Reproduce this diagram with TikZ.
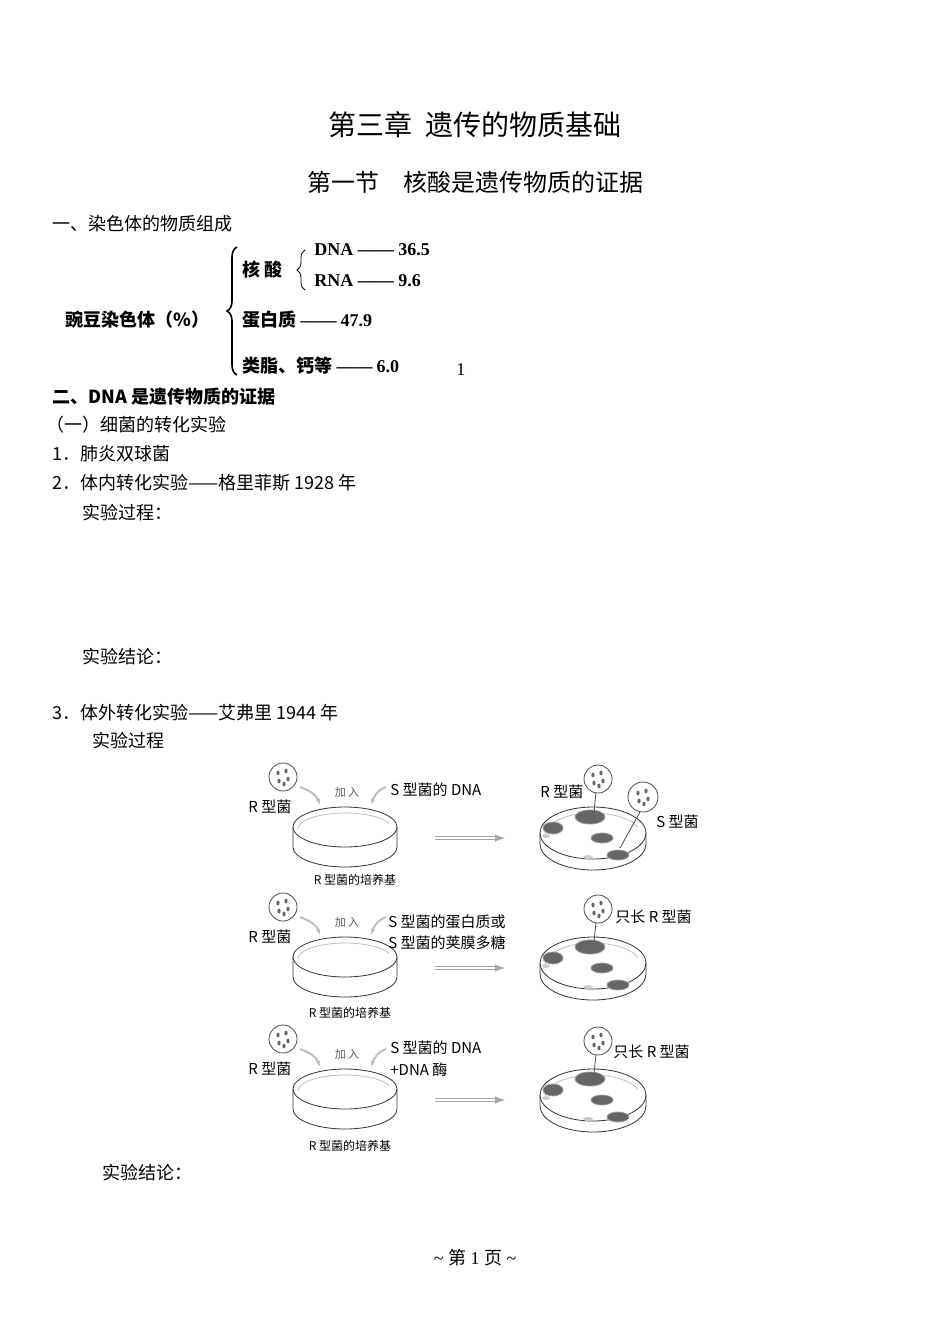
\documentclass[tikz,border=0pt]{standalone}
\usepackage{fontspec}
\setmainfont{Liberation Serif}
\newfontfamily\cjk{Noto Sans CJK SC}
\usetikzlibrary{arrows.meta,decorations.pathreplacing}
\tikzset{
	txt/.style={anchor=west, inner sep=0pt, font=\cjk\fontsize{9}{11}\selectfont},
	lbl/.style={anchor=west, inner sep=0pt, font=\cjk\fontsize{7.5}{9}\selectfont},
	tiny/.style={inner sep=0pt, font=\cjk\fontsize{5.5}{7}\selectfont, gray!70!black},
	colony/.style={fill=black!60, draw=black!40},
	bubble/.style={draw=black!70, fill=white},
	feed/.style={gray!50, line width=1pt, -{Latex[length=3pt]}},
	thru/.style={double=white, double distance=1.2pt, draw=gray!70, -{Latex[length=5pt]}},
}
\newcommand{\dish}[5]{% x, y, rx, ry, rim
	\draw[black!80] (#1-#3,#2) -- (#1-#3,#2+#5) arc[start angle=180, end angle=0, x radius=#3, y radius=#4] -- (#1+#3,#2);
	\draw[black!80, fill=white] (#1,#2) ellipse [x radius=#3, y radius=#4];
	\draw[gray!50] (#1-#3+5,#2+2) arc[start angle=180, end angle=340, x radius=#3-5, y radius=#4-4];
}
\newcommand{\cells}[2]{% bubble centre
	\foreach \dx/\dy in {-5/-4,-4/4,3/-6,5/2,1/7}
		\fill[black!60] (#1+\dx,#2+\dy) ellipse [x radius=1.6, y radius=2.4];
}
\newcommand{\spots}[2]{% dish centre
	\fill[colony] (#1-40,#2-5) ellipse [x radius=10, y radius=6];
	\fill[colony] (#1+9,#2+5) ellipse [x radius=11, y radius=5];
	\fill[colony] (#1+25,#2+22) ellipse [x radius=11, y radius=5];
	\fill[gray!40] (#1-47,#2+3) ellipse [x radius=4, y radius=2];
	\fill[gray!40] (#1-5,#2+24) ellipse [x radius=5, y radius=2];
}
\begin{document}
\begin{tikzpicture}[x=0.5pt, y=-0.5pt]
	\useasboundingbox[fill=white] (0,0) rectangle (950,1343);
	
	% headings
	\node[inner sep=0pt, font=\cjk\fontsize{14}{16}\selectfont] (title) at (475,125) {第三章\ \ 遗传的物质基础};
	\node[inner sep=0pt, font=\cjk\fontsize{12}{14}\selectfont] (sect) at (475,182) {第一节\quad 核酸是遗传物质的证据};
	\node[txt] (h1) at (52,224) {一、染色体的物质组成};
	
	% chromosome composition
	\node[txt, font=\cjk\bfseries\fontsize{9}{11}\selectfont] (pea) at (65,320) {豌豆染色体（\%）};
	\draw[decorate, decoration={brace, amplitude=5pt}, thick] (237,375) -- (237,247);
	\node[txt, font=\cjk\bfseries\fontsize{9}{11}\selectfont] (nuc) at (242,270) {核\ 酸};
	\draw[decorate, decoration={brace, amplitude=4pt}] (305,290) -- (305,250);
	\node[txt, font=\bfseries\fontsize{9}{11}\selectfont] (dna) at (314,250) {DNA —— 36.5};
	\node[txt, font=\bfseries\fontsize{9}{11}\selectfont] (rna) at (314,281) {RNA —— 9.6};
	\node[txt, font=\cjk\bfseries\fontsize{9}{11}\selectfont] (prot) at (242,320) {蛋白质 {\rmfamily——} {\rmfamily 47.9}};
	\node[txt, font=\cjk\bfseries\fontsize{9}{11}\selectfont] (lip) at (242,366) {类脂、钙等 {\rmfamily ——} {\rmfamily 6.0}};
	\node[txt, font=\rmfamily\fontsize{9}{11}\selectfont] (one) at (456,370) {1};
	
	% text lines
	\node[txt, font=\cjk\bfseries\fontsize{9}{11}\selectfont] (h2) at (52,397) {二、DNA 是遗传物质的证据};
	\node[txt] (sub1) at (46,425) {（一）细菌的转化实验};
	\node[txt] (it1) at (52,454) {1．肺炎双球菌};
	\node[txt] (it2) at (52,483) {2．体内转化实验——格里菲斯\ 1928 年};
	\node[txt] (proc1) at (82,513) {实验过程：};
	\node[txt] (conc1) at (82,657) {实验结论：};
	\node[txt] (it3) at (52,713) {3．体外转化实验——艾弗里\ 1944 年};
	\node[txt] (proc2) at (92,741) {实验过程};
	\node[txt] (conc2) at (102,1173) {实验结论：};
	\node[txt, anchor=center] (foot) at (475,1258) {\rmfamily \textasciitilde\ {\cjk 第}\ 1 {\cjk 页}\ \textasciitilde};
	
	% three rows of the experiment
	\foreach \r/\yy in {1/827,2/957,3/1089}{
		\dish{345}{\yy}{52}{20}{20}
		\dish{593}{\yy+6}{53}{26}{11}
		\spots{593}{\yy+6}
		\fill[colony] (590,\yy-10) ellipse [x radius=15, y radius=7];
		\node[tiny] (add\r) at (347,\yy-35) {加\ 入};
		\node[lbl] (rl\r) at (248,\yy-20) {R 型菌};
		\draw[bubble] (283,\yy-50) circle [radius=14];
		\cells{283}{\yy-50}
		\draw[feed] (300,\yy-40) to[out=-20, in=110] (320,\yy-22);
		\draw[feed] (386,\yy-40) to[out=200, in=70] (371,\yy-22);
		\draw[thru] (435,\yy+11) -- (505,\yy+11);
		\draw[black!70] (594,\yy-15) -- (596,\yy-35);
		\draw[bubble] (598,\yy-48) circle [radius=14];
		\cells{598}{\yy-48}
	}
	\node[tiny, black, font=\cjk\fontsize{6}{7}\selectfont] (med1) at (355,880) {R 型菌的培养基};
	\node[tiny, black, font=\cjk\fontsize{6}{7}\selectfont] (med2) at (350,1013) {R 型菌的培养基};
	\node[tiny, black, font=\cjk\fontsize{6}{7}\selectfont] (med3) at (350,1146) {R 型菌的培养基};
	
	% row 1 labels
	\node[lbl] (sdna1) at (390,790) {S 型菌的 DNA};
	\node[lbl] (rr1) at (540,792) {R 型菌};
	\draw[black!70] (620,848) -- (640,812);
	\draw[bubble] (643,797) circle [radius=15];
	\cells{643}{797}
	\node[lbl] (ss1) at (656,822) {S 型菌};
	% row 2 labels
	\node[lbl] (sp2) at (388,922) {S 型菌的蛋白质或};
	\node[lbl] (sc2) at (388,943) {S 型菌的荚膜多糖};
	\node[lbl] (only2) at (615,917) {只长 R 型菌};
	% row 3 labels
	\node[lbl] (sdna3) at (390,1048) {S 型菌的 DNA};
	\node[lbl] (enz3) at (390,1070) {+DNA 酶};
	\node[lbl] (only3) at (613,1052) {只长 R 型菌};
\end{tikzpicture}
\end{document}
